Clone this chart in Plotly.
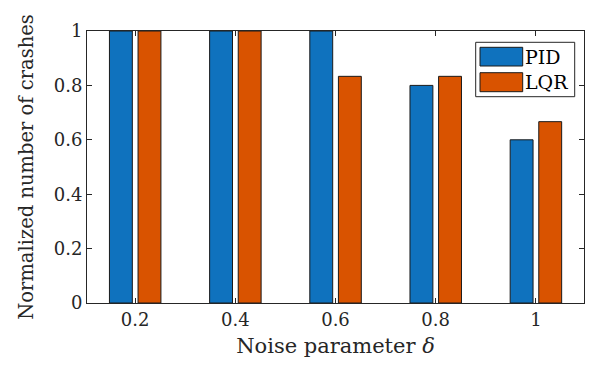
import plotly.graph_objects as go

# ---- data ----
noise = [0.2, 0.4, 0.6, 0.8, 1.0]
pid = [1.0, 1.0, 1.0, 0.8, 0.6]
lqr = [1.0, 1.0, 0.8333, 0.8333, 0.6667]
series_names = ["PID", "LQR"]
x_ticks = [0.2, 0.4, 0.6, 0.8, 1.0]
x_ticklabels = ["0.2", "0.4", "0.6", "0.8", "1"]
y_ticks = [0, 0.2, 0.4, 0.6, 0.8, 1.0]
y_ticklabels = ["0", "0.2", "0.4", "0.6", "0.8", "1"]

BLUE = "#0F72BE"
ORANGE = "#D95300"
EDGE = "#1a1a1a"
AX = "#262626"
FONT = "DejaVu Serif"

# page has an 8px body margin; figure sized to fit inside 593x370
OFF = 8
W, H = 577, 354
ML, MR, MT, MB = 79, 1, 23, 59
PW, PH = W - ML - MR, H - MT - MB

bar_w = 0.0457

fig = go.Figure()
fig.add_trace(go.Bar(x=noise, y=pid, name=series_names[0], width=bar_w, offset=-0.0513,
                     marker=dict(color=BLUE, line=dict(color=EDGE, width=1)), showlegend=False))
fig.add_trace(go.Bar(x=noise, y=lqr, name=series_names[1], width=bar_w, offset=0.0058,
                     marker=dict(color=ORANGE, line=dict(color=EDGE, width=1)), showlegend=False))

def px(x):  # page pixel -> paper
    return (x - OFF - ML) / PW

def py(y):
    return (MT + PH - (y - OFF)) / PH

# custom legend (MATLAB style)
shapes = [
    dict(type="rect", xref="paper", yref="paper", x0=px(475.7), x1=px(574.7), y0=py(96.7), y1=py(42.3),
         line=dict(color=AX, width=1), fillcolor="white", layer="above"),
    dict(type="rect", xref="paper", yref="paper", x0=px(480), x1=px(522.7), y0=py(66), y1=py(47.3),
         line=dict(color=EDGE, width=1), fillcolor=BLUE, layer="above"),
    dict(type="rect", xref="paper", yref="paper", x0=px(480), x1=px(522.7), y0=py(91.7), y1=py(72.7),
         line=dict(color=EDGE, width=1), fillcolor=ORANGE, layer="above"),
]
annotations = [
    dict(xref="paper", yref="paper", x=px(523), y=py(57), text=series_names[0], showarrow=False,
         xanchor="left", yanchor="middle", font=dict(family=FONT, size=19, color="black")),
    dict(xref="paper", yref="paper", x=px(523), y=py(82), text=series_names[1], showarrow=False,
         xanchor="left", yanchor="middle", font=dict(family=FONT, size=19, color="black")),
]

fig.update_layout(
    width=W, height=H,
    margin=dict(l=ML, r=MR, t=MT, b=MB, autoexpand=False),
    paper_bgcolor="white", plot_bgcolor="white",
    barmode="overlay",
    font=dict(family=FONT, color=AX, size=18),
    shapes=shapes, annotations=annotations,
    xaxis=dict(range=[0.1039, 1.0961], tickvals=x_ticks, ticktext=x_ticklabels,
               showgrid=False, zeroline=False, showline=True, linecolor=AX, linewidth=1,
               mirror="ticks", ticks="inside", ticklen=5, tickcolor=AX,
               tickfont=dict(family=FONT, size=18, color=AX),
               title=dict(text="Noise parameter <i>δ</i>", font=dict(family=FONT, size=21, color=AX), standoff=9)),
    yaxis=dict(range=[0, 1], tickvals=y_ticks, ticktext=y_ticklabels,
               showgrid=False, zeroline=False, showline=True, linecolor=AX, linewidth=1,
               mirror="ticks", ticks="inside", ticklen=5, tickcolor=AX,
               tickfont=dict(family=FONT, size=18, color=AX),
               title=dict(text="Normalized number of crashes", font=dict(family=FONT, size=19.5, color=AX), standoff=14)),
)

fig.write_html("out.html")
